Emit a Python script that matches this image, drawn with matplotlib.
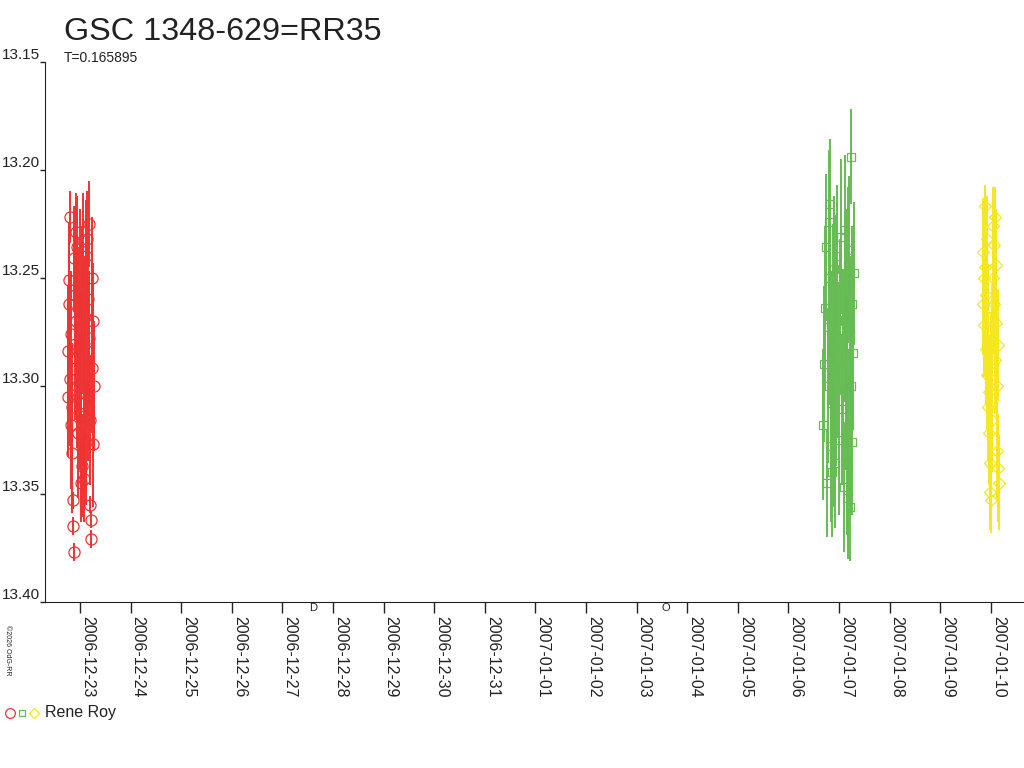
import datetime as dt
import matplotlib
matplotlib.use('Agg')
import matplotlib.pyplot as plt
import matplotlib.dates as mdates
from matplotlib.lines import Line2D

plt.rcParams['font.family'] = ['Liberation Sans', 'DejaVu Sans']

# Observations: time offset (days) from the reference date, magnitude, error

red_day = dt.datetime(2006, 12, 23)
red_t = [-0.24, -0.23, -0.22, -0.21, -0.20, -0.19, -0.18, -0.17, -0.16, -0.15,
         -0.14, -0.13, -0.12, -0.11, -0.10, -0.09, -0.08, -0.07, -0.06, -0.05,
         -0.04, -0.03, -0.02, -0.01, 0.00, 0.01, 0.02, 0.03, 0.04, 0.05,
         0.06, 0.07, 0.08, 0.09, 0.10, 0.11, 0.12, 0.13, 0.14, 0.15,
         0.16, 0.17, 0.18, 0.19, 0.20, 0.21, 0.22, 0.23, 0.24, 0.25,
         0.26, 0.27]
red_mag = [13.305, 13.284, 13.262, 13.251, 13.222, 13.297, 13.318, 13.276, 13.331, 13.310,
           13.353, 13.365, 13.377, 13.241, 13.258, 13.287, 13.229, 13.270, 13.300, 13.236,
           13.322, 13.264, 13.281, 13.308, 13.245, 13.290, 13.345, 13.337, 13.255, 13.233,
           13.274, 13.314, 13.343, 13.296, 13.268, 13.240, 13.326, 13.284, 13.232, 13.305,
           13.260, 13.278, 13.225, 13.316, 13.355, 13.362, 13.371, 13.250, 13.292, 13.327,
           13.270, 13.300]
red_err = [0.028, 0.030, 0.029, 0.027, 0.012, 0.031, 0.030, 0.029, 0.028, 0.030,
           0.004, 0.004, 0.004, 0.024, 0.028, 0.029, 0.018, 0.030, 0.029, 0.024,
           0.030, 0.028, 0.030, 0.031, 0.027, 0.032, 0.018, 0.024, 0.029, 0.022,
           0.030, 0.029, 0.020, 0.030, 0.028, 0.026, 0.029, 0.030, 0.022, 0.030,
           0.029, 0.031, 0.020, 0.030, 0.004, 0.004, 0.004, 0.028, 0.030, 0.029,
           0.027, 0.030]

green_day = dt.datetime(2007, 1, 7)
green_t = [-0.32, -0.30, -0.28, -0.26, -0.24, -0.22, -0.20, -0.19, -0.18, -0.17,
           -0.16, -0.15, -0.14, -0.13, -0.12, -0.11, -0.10, -0.09, -0.08, -0.07,
           -0.06, -0.05, -0.04, -0.02, 0.00, 0.02, 0.04, 0.06, 0.08, 0.10,
           0.11, 0.12, 0.13, 0.14, 0.15, 0.16, 0.17, 0.18, 0.19, 0.20,
           0.21, 0.22, 0.23, 0.24, 0.25, 0.26, 0.28, 0.30]
green_mag = [13.318, 13.290, 13.264, 13.236, 13.345, 13.300, 13.224, 13.273, 13.216, 13.250,
             13.328, 13.308, 13.283, 13.340, 13.262, 13.295, 13.246, 13.320, 13.278, 13.336,
             13.257, 13.302, 13.240, 13.288, 13.325, 13.266, 13.231, 13.311, 13.282, 13.347,
             13.228, 13.270, 13.305, 13.254, 13.336, 13.290, 13.352, 13.244, 13.318, 13.237,
             13.356, 13.276, 13.300, 13.194, 13.262, 13.326, 13.285, 13.248]
green_err = [0.035, 0.036, 0.038, 0.034, 0.025, 0.036, 0.033, 0.036, 0.030, 0.037,
             0.035, 0.034, 0.036, 0.030, 0.037, 0.035, 0.034, 0.036, 0.035, 0.030,
             0.036, 0.035, 0.033, 0.036, 0.035, 0.034, 0.036, 0.035, 0.036, 0.030,
             0.035, 0.037, 0.034, 0.036, 0.033, 0.035, 0.028, 0.036, 0.035, 0.034,
             0.025, 0.036, 0.035, 0.022, 0.036, 0.034, 0.035, 0.033]

yellow_day = dt.datetime(2007, 1, 10)
yellow_t = [-0.16, -0.15, -0.14, -0.13, -0.12, -0.11, -0.10, -0.09, -0.08, -0.07,
            -0.06, -0.05, -0.04, -0.03, -0.02, -0.01, 0.00, 0.01, 0.02, 0.03,
            0.04, 0.05, 0.06, 0.07, 0.08, 0.09, 0.10, 0.11, 0.12, 0.13,
            0.14, 0.15, 0.16]
yellow_mag = [13.262, 13.238, 13.250, 13.272, 13.245, 13.217, 13.283, 13.258, 13.232, 13.295,
              13.268, 13.310, 13.322, 13.303, 13.336, 13.349, 13.353, 13.290, 13.278, 13.316,
              13.226, 13.250, 13.235, 13.262, 13.222, 13.288, 13.244, 13.271, 13.300, 13.330,
              13.281, 13.338, 13.345]
yellow_err = [0.024, 0.025, 0.026, 0.024, 0.025, 0.010, 0.026, 0.024, 0.020, 0.026,
              0.024, 0.025, 0.024, 0.026, 0.024, 0.018, 0.015, 0.024, 0.025, 0.024,
              0.018, 0.026, 0.022, 0.024, 0.014, 0.025, 0.026, 0.024, 0.025, 0.024,
              0.026, 0.025, 0.022]

yticks = [13.15, 13.20, 13.25, 13.30, 13.35, 13.40]
first_tick = dt.datetime(2006, 12, 23)
last_tick = dt.datetime(2007, 1, 10)

# moon phases shown under the axis
moon_dates = [dt.datetime(2006, 12, 27, 14, 48), dt.datetime(2007, 1, 3, 13, 57)]
moon_marks = ['D', 'O']

RED = '#ee3333'
GREEN = '#66bb55'
YELLOW = '#f5e620'


def to_dates(day, offsets):
    return [mdates.date2num(day + dt.timedelta(days=t)) for t in offsets]


fig = plt.figure(figsize=(10.24, 7.68), dpi=100)
ax = fig.add_axes([45 / 1024, 1 - 601.7 / 768, 1 - 45 / 1024, 540 / 768])

for day, t, mag, err, col, mk, ms in [
        (red_day, red_t, red_mag, red_err, RED, 'o', 8),
        (green_day, green_t, green_mag, green_err, GREEN, 's', 6),
        (yellow_day, yellow_t, yellow_mag, yellow_err, YELLOW, 'D', 6.5)]:
    ax.errorbar(to_dates(day, t), mag, yerr=err, fmt=mk, color=col, mfc='none',
                mec=col, ms=ms, mew=0.9, elinewidth=1.4, capsize=0)

x0 = mdates.date2num(first_tick)
ax.set_xlim(x0 - 0.692, x0 + 18.656)
ax.set_ylim(13.40, 13.15)

ax.spines['top'].set_visible(False)
ax.spines['right'].set_visible(False)
ax.spines['left'].set_color('#222222')
ax.spines['bottom'].set_color('#222222')

ax.set_yticks(yticks)
ax.set_yticklabels(['%.2f' % v for v in yticks])
ax.tick_params(axis='y', length=3.5, width=1, pad=0, labelsize=11, colors='#222222')
for lab in ax.get_yticklabels():
    lab.set_verticalalignment('bottom')

xt = [x0 + i for i in range(int(mdates.date2num(last_tick) - x0) + 1)]
ax.set_xticks(xt)
ax.xaxis.set_major_formatter(mdates.DateFormatter('%Y-%m-%d'))
ax.tick_params(axis='x', length=8, width=1, pad=2, labelsize=11.5, colors='#222222')
for lab in ax.get_xticklabels():
    lab.set_rotation(-90)
    lab.set_horizontalalignment('left')
    lab.set_verticalalignment('top')

for d, m in zip(moon_dates, moon_marks):
    ax.text(mdates.date2num(d), -0.012, m, transform=ax.get_xaxis_transform(),
            fontsize=8, ha='center', va='center', color='#222222', clip_on=False)

# title and period
fig.text(64 / 1024, 1 - 40 / 768, 'GSC 1348-629=RR35', fontsize=23.3,
         color='#222222', va='baseline')
fig.text(64 / 1024, 1 - 62 / 768, 'T=0.165895', fontsize=10,
         color='#222222', va='baseline')

# copyright text on the left
fig.text(7 / 1024, 1 - 650 / 768, '\u00a92026 OdG-RR', fontsize=5, rotation=-90,
         ha='center', va='center', color='#222222')

# legend line under the chart
ly = 1 - 713 / 768
for px, col, mk, ms in [(10, RED, 'o', 7), (22, GREEN, 's', 5), (34, YELLOW, 'D', 5)]:
    fig.add_artist(Line2D([px / 1024], [ly], transform=fig.transFigure, marker=mk,
                          ms=ms, mfc='none', mec=col, mew=0.9, linestyle='none'))
fig.text(45 / 1024, ly, 'Rene Roy', fontsize=11.5, color='#222222', va='center')

fig.savefig('out.png', dpi=100)
